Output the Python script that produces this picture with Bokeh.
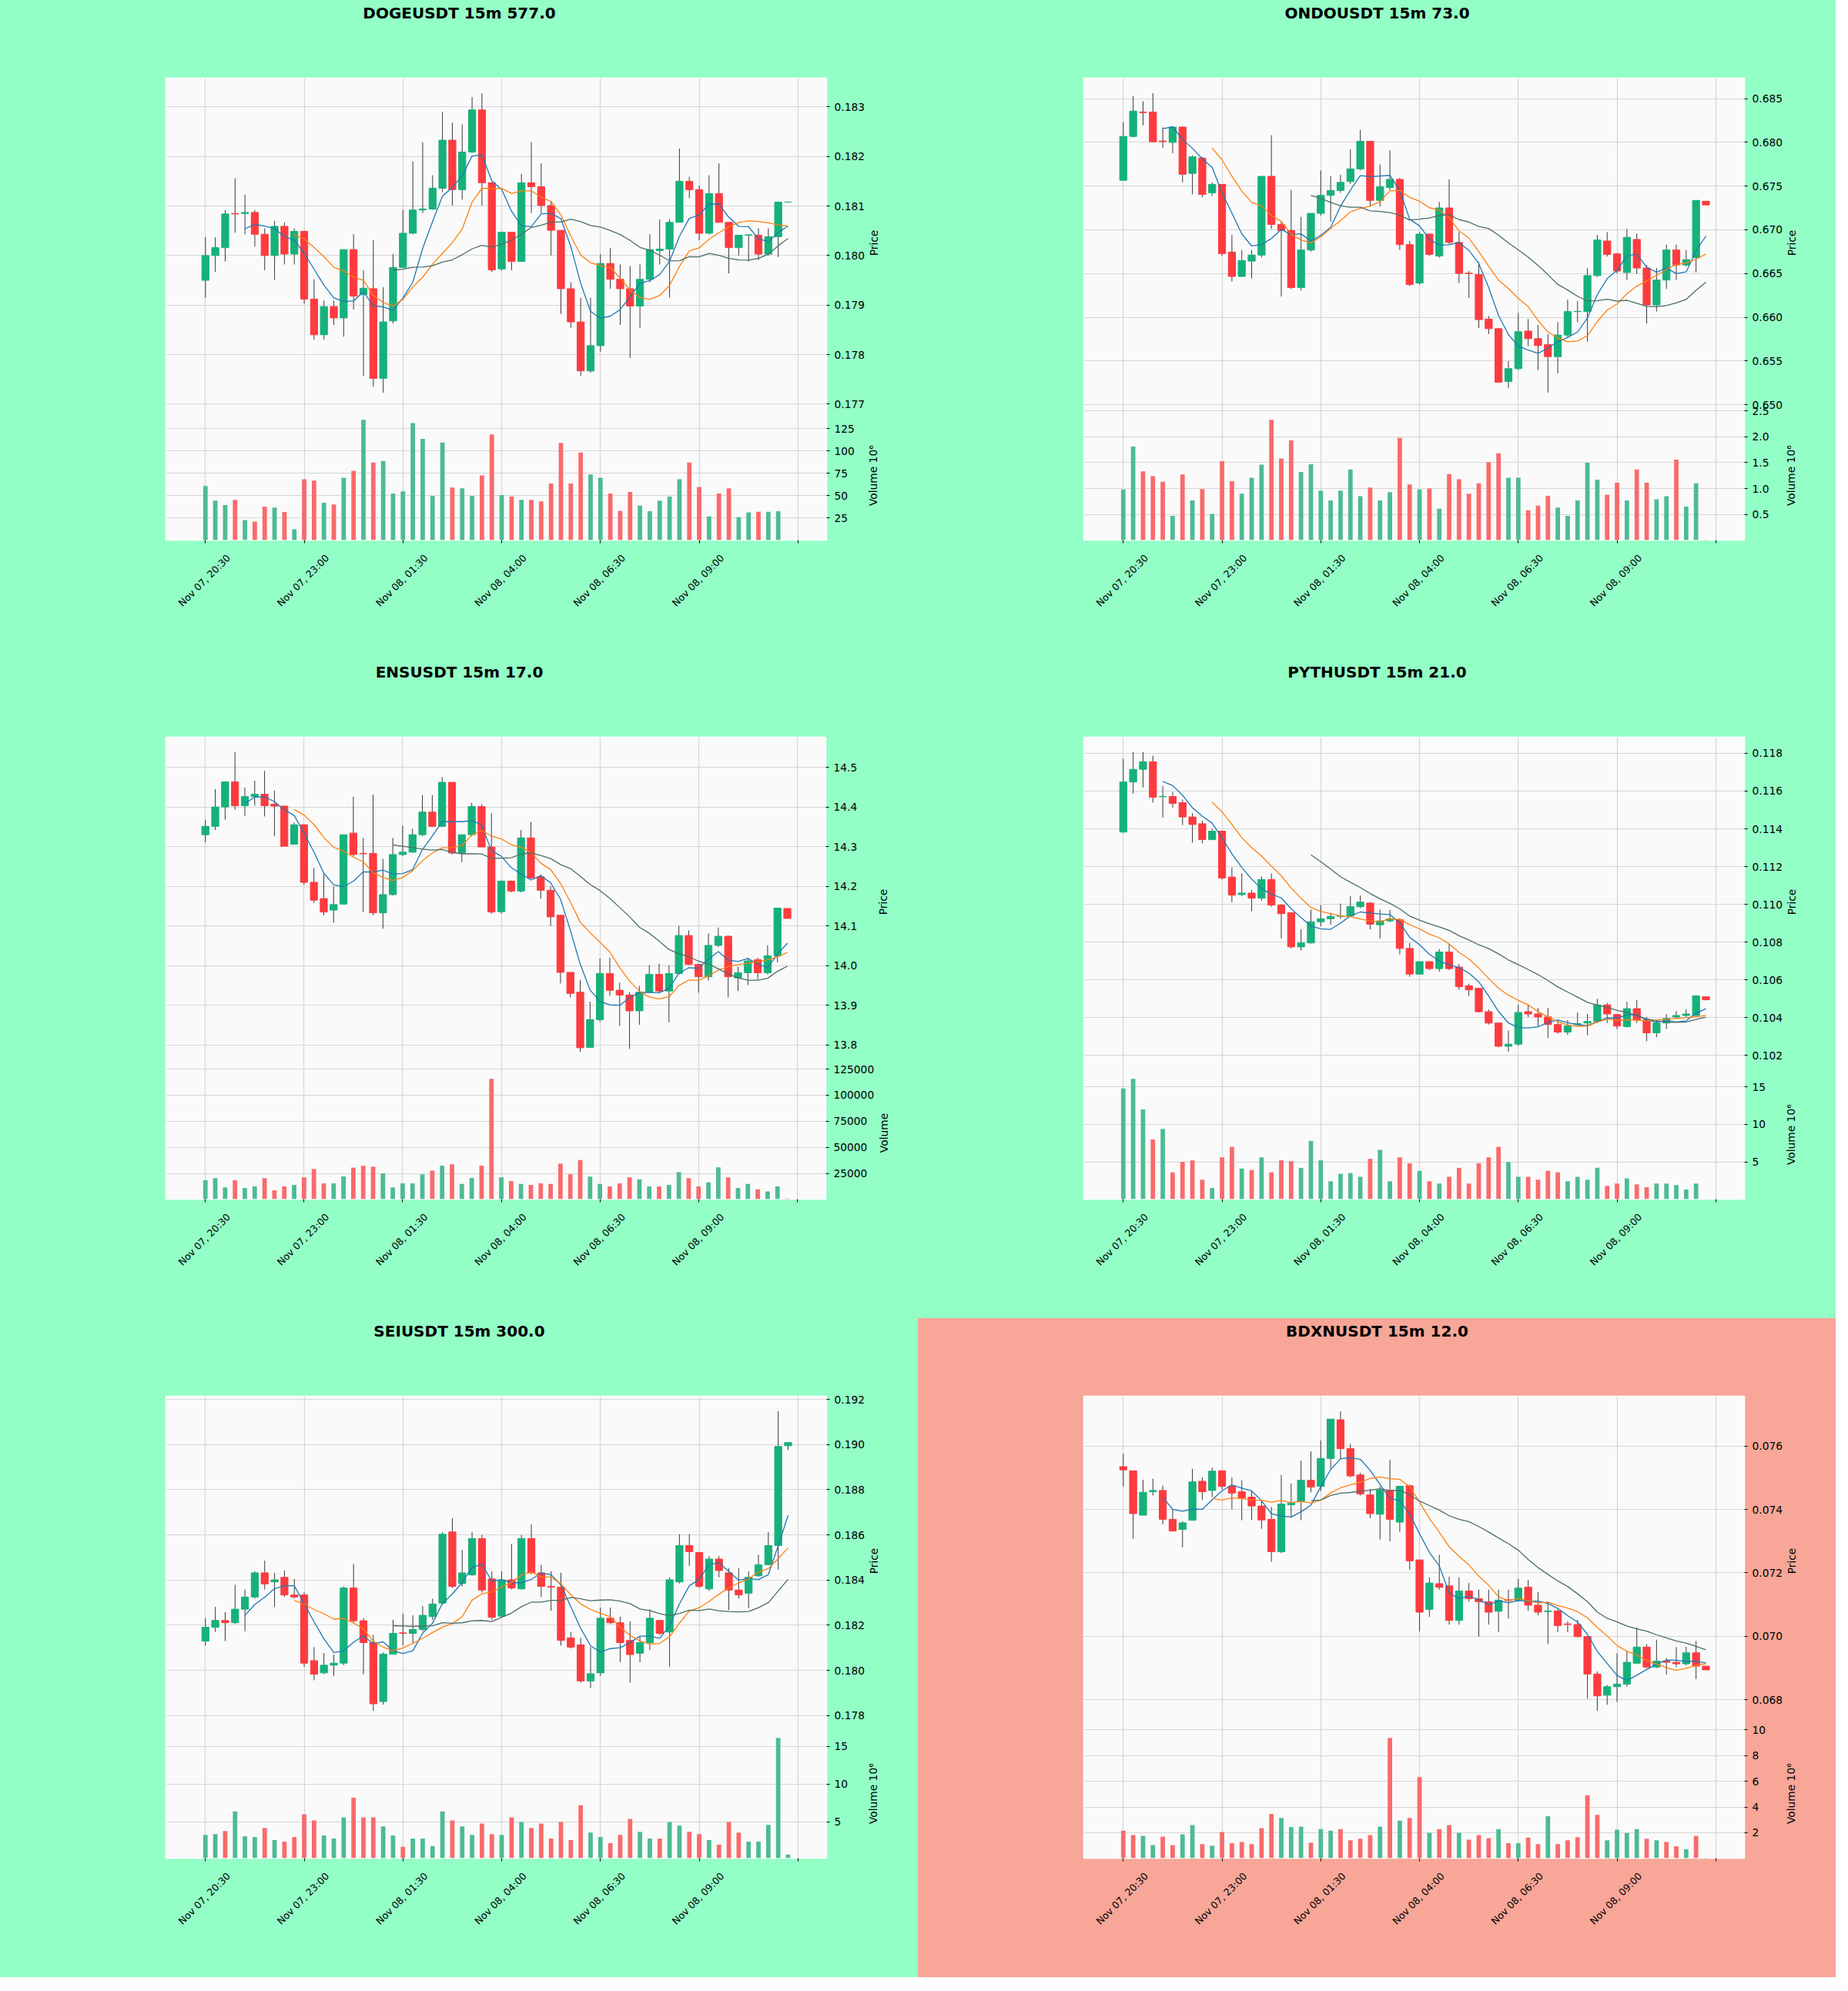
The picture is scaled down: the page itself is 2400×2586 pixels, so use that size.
import math
import numpy as np
import pandas as pd
from bokeh.plotting import figure
from bokeh.layouts import column, row
from bokeh.models import Range1d, FixedTicker, CustomJSTickFormatter, ColumnDataSource
from bokeh.core.properties import value
from bokeh.embed import file_html
from bokeh.resources import INLINE

# ---------------- data ----------------
X_TICK_POS = [0, 10, 20, 30, 40, 50]
X_TICK_LABELS = ["Nov 07, 20:30", "Nov 07, 23:00", "Nov 08, 01:30",
                 "Nov 08, 04:00", "Nov 08, 06:30", "Nov 08, 09:00"]
X_TICK_MARKS = [0, 10, 20, 30, 40, 50, 60]
MA_WINDOWS = [5, 10, 20]

DOGE_TITLE = "DOGEUSDT 15m 577.0"
DOGE_OPEN = [0.17950, 0.18000, 0.18016, 0.18085, 0.18085, 0.18087, 0.18043, 0.18000, 0.18059, 0.18003,
             0.18049, 0.17912, 0.17840, 0.17897, 0.17874, 0.18012, 0.17921, 0.17933, 0.17752, 0.17868,
             0.17976, 0.18045, 0.18092, 0.18094, 0.18136, 0.18233, 0.18133, 0.18209, 0.18294, 0.18147,
             0.17973, 0.18047, 0.17988, 0.18147, 0.18139, 0.18101, 0.18051, 0.17933, 0.17866, 0.17767,
             0.17818, 0.17984, 0.17952, 0.17933, 0.17898, 0.17952, 0.18010, 0.18013, 0.18067, 0.18150,
             0.18133, 0.18045, 0.18125, 0.18067, 0.18016, 0.18041, 0.18041, 0.18003, 0.18038, 0.18108]
DOGE_HIGH = [0.18037, 0.18037, 0.18092, 0.18156, 0.18123, 0.18092, 0.18055, 0.18070, 0.18067, 0.18055,
             0.18049, 0.17952, 0.17909, 0.17909, 0.18012, 0.18043, 0.17970, 0.18031, 0.17936, 0.18003,
             0.18092, 0.18190, 0.18229, 0.18162, 0.18290, 0.18268, 0.18265, 0.18320, 0.18328, 0.18147,
             0.18047, 0.18047, 0.18165, 0.18229, 0.18186, 0.18110, 0.18051, 0.17946, 0.17915, 0.17915,
             0.18003, 0.18015, 0.17982, 0.17979, 0.17982, 0.18043, 0.18073, 0.18073, 0.18216, 0.18159,
             0.18141, 0.18162, 0.18186, 0.18067, 0.18041, 0.18042, 0.18055, 0.18055, 0.18109, 0.18108]
DOGE_LOW = [0.17915, 0.17967, 0.17988, 0.18046, 0.18043, 0.18018, 0.17970, 0.17951, 0.17982, 0.17982,
            0.17903, 0.17830, 0.17830, 0.17860, 0.17836, 0.17891, 0.17757, 0.17735, 0.17723, 0.17863,
            0.17976, 0.18043, 0.18086, 0.18092, 0.18128, 0.18101, 0.18113, 0.18207, 0.18101, 0.17967,
            0.17970, 0.17970, 0.17988, 0.18086, 0.18086, 0.18000, 0.17882, 0.17854, 0.17757, 0.17763,
            0.17806, 0.17933, 0.17860, 0.17793, 0.17854, 0.17946, 0.17982, 0.17915, 0.18067, 0.18116,
            0.18031, 0.18043, 0.18067, 0.17964, 0.18000, 0.17988, 0.17991, 0.18000, 0.17997, 0.18108]
DOGE_CLOSE = [0.18000, 0.18016, 0.18084, 0.18084, 0.18087, 0.18043, 0.18000, 0.18059, 0.18003, 0.18049,
              0.17912, 0.17840, 0.17897, 0.17874, 0.18012, 0.17918, 0.17934, 0.17752, 0.17866, 0.17976,
              0.18045, 0.18092, 0.18094, 0.18136, 0.18233, 0.18133, 0.18209, 0.18294, 0.18147, 0.17971,
              0.18047, 0.17988, 0.18147, 0.18139, 0.18101, 0.18051, 0.17933, 0.17866, 0.17767, 0.17818,
              0.17984, 0.17952, 0.17933, 0.17898, 0.17952, 0.18012, 0.18013, 0.18067, 0.18150, 0.18133,
              0.18045, 0.18125, 0.18067, 0.18016, 0.18041, 0.18042, 0.18003, 0.18038, 0.18108, 0.18108]
DOGE_VOLUME = [60.7, 44.4, 39.3, 45.1, 22.6, 20.9, 37.6, 36.6, 31.5, 12.1,
               68.2, 66.8, 42.0, 40.0, 69.9, 77.7, 134.9, 86.9, 88.6, 52.2,
               54.6, 131.1, 113.4, 49.5, 109.4, 59.0, 58.0, 49.5, 72.6, 118.5,
               50.5, 48.8, 45.1, 45.1, 43.4, 63.4, 109.0, 63.4, 98.1, 73.6,
               69.9, 52.2, 32.8, 53.9, 38.6, 32.5, 44.4, 48.8, 68.2, 86.9,
               59.7, 26.7, 52.2, 58.0, 25.7, 31.1, 31.8, 31.8, 32.5, 0.4]
DOGE_PRICE_TICKS = [0.177, 0.178, 0.179, 0.180, 0.181, 0.182, 0.183]
DOGE_VOLUME_TICKS = [25, 50, 75, 100, 125]

ONDO_TITLE = "ONDOUSDT 15m 73.0"
ONDO_OPEN = [0.67566, 0.68067, 0.68345, 0.68345, 0.68015, 0.67999, 0.68174, 0.67645, 0.67820, 0.67422,
             0.67518, 0.66745, 0.66467, 0.66642, 0.66711, 0.67611, 0.67061, 0.66992, 0.66340, 0.66769,
             0.67188, 0.67394, 0.67449, 0.67552, 0.67696, 0.68012, 0.67336, 0.67484, 0.67576, 0.66831,
             0.66391, 0.66951, 0.66700, 0.67250, 0.66855, 0.66504, 0.66488, 0.65979, 0.65870, 0.65265,
             0.65413, 0.65842, 0.65756, 0.65687, 0.65550, 0.65797, 0.66065, 0.66065, 0.66477, 0.66872,
             0.66725, 0.66512, 0.66890, 0.66563, 0.66141, 0.66426, 0.66769, 0.66598, 0.66683, 0.67326]
ONDO_HIGH = [0.68229, 0.68527, 0.68469, 0.68562, 0.68170, 0.68184, 0.68184, 0.67851, 0.67834, 0.67542,
             0.67518, 0.66941, 0.66769, 0.66769, 0.67611, 0.68081, 0.67095, 0.67456, 0.67147, 0.67188,
             0.67679, 0.67611, 0.67628, 0.67920, 0.68143, 0.68012, 0.67748, 0.67909, 0.67593, 0.66872,
             0.66975, 0.66958, 0.67319, 0.67576, 0.66975, 0.66529, 0.66632, 0.66014, 0.65876, 0.65499,
             0.66048, 0.65979, 0.65911, 0.65808, 0.65945, 0.66202, 0.66185, 0.66563, 0.66941, 0.66975,
             0.66735, 0.67010, 0.66958, 0.66598, 0.66563, 0.66831, 0.66831, 0.66769, 0.67336, 0.67326]
ONDO_LOW = [0.67559, 0.68057, 0.68194, 0.68005, 0.67937, 0.67875, 0.67542, 0.67405, 0.67370, 0.67387,
            0.66701, 0.66409, 0.66460, 0.66443, 0.66683, 0.67010, 0.66237, 0.66323, 0.66306, 0.66752,
            0.67164, 0.67095, 0.67422, 0.67525, 0.67679, 0.67267, 0.67267, 0.67456, 0.66769, 0.66357,
            0.66374, 0.66701, 0.66683, 0.66838, 0.66391, 0.66220, 0.65876, 0.65808, 0.65258, 0.65190,
            0.65396, 0.65670, 0.65396, 0.65138, 0.65361, 0.65773, 0.65945, 0.65722, 0.66460, 0.66694,
            0.66501, 0.66426, 0.66495, 0.65928, 0.66065, 0.66323, 0.66426, 0.66580, 0.66512, 0.67284]
ONDO_CLOSE = [0.68067, 0.68356, 0.68340, 0.68005, 0.68008, 0.68174, 0.67635, 0.67834, 0.67405, 0.67518,
              0.66728, 0.66467, 0.66649, 0.66711, 0.67611, 0.67061, 0.66992, 0.66340, 0.66769, 0.67188,
              0.67394, 0.67449, 0.67542, 0.67696, 0.68012, 0.67336, 0.67490, 0.67576, 0.66831, 0.66374,
              0.66951, 0.66718, 0.67250, 0.66855, 0.66501, 0.66498, 0.65973, 0.65870, 0.65258, 0.65413,
              0.65835, 0.65756, 0.65677, 0.65550, 0.65797, 0.66065, 0.66068, 0.66477, 0.66883, 0.66718,
              0.66529, 0.66914, 0.66563, 0.66141, 0.66426, 0.66769, 0.66598, 0.66659, 0.67336, 0.67284]
ONDO_VOLUME = [0.98, 1.81, 1.33, 1.24, 1.13, 0.47, 1.27, 0.77, 0.99, 0.51,
               1.53, 1.14, 0.90, 1.21, 1.46, 2.33, 1.58, 1.93, 1.32, 1.47,
               0.96, 0.77, 0.96, 1.37, 0.85, 1.02, 0.77, 0.93, 1.98, 1.08,
               0.98, 1.00, 0.61, 1.28, 1.18, 0.90, 1.10, 1.51, 1.68, 1.21,
               1.21, 0.58, 0.67, 0.86, 0.63, 0.47, 0.77, 1.50, 1.17, 0.88,
               1.11, 0.77, 1.37, 1.11, 0.79, 0.85, 1.56, 0.65, 1.10, 0.01]
ONDO_PRICE_TICKS = [0.650, 0.655, 0.660, 0.665, 0.670, 0.675, 0.680, 0.685]
ONDO_VOLUME_TICKS = [0.5, 1.0, 1.5, 2.0, 2.5]

ENS_TITLE = "ENSUSDT 15m 17.0"
ENS_OPEN = [14.330, 14.351, 14.400, 14.463, 14.403, 14.426, 14.432, 14.407, 14.402, 14.306,
            14.355, 14.210, 14.169, 14.140, 14.155, 14.334, 14.283, 14.283, 14.133, 14.179,
            14.280, 14.286, 14.330, 14.387, 14.351, 14.462, 14.284, 14.330, 14.401, 14.299,
            14.136, 14.213, 14.188, 14.322, 14.224, 14.190, 14.127, 13.983, 13.933, 13.794,
            13.864, 13.980, 13.938, 13.926, 13.886, 13.933, 13.978, 13.936, 13.980, 14.076,
            14.003, 13.972, 14.051, 14.074, 13.969, 13.982, 14.015, 13.982, 14.025, 14.144]
ENS_HIGH = [14.368, 14.445, 14.463, 14.538, 14.449, 14.466, 14.491, 14.441, 14.403, 14.361,
            14.355, 14.246, 14.230, 14.200, 14.330, 14.426, 14.322, 14.431, 14.269, 14.322,
            14.353, 14.345, 14.430, 14.430, 14.475, 14.462, 14.330, 14.410, 14.407, 14.384,
            14.215, 14.215, 14.342, 14.362, 14.230, 14.200, 14.127, 13.983, 13.964, 13.909,
            14.018, 14.020, 13.957, 13.934, 13.949, 14.001, 14.005, 14.001, 14.100, 14.089,
            14.005, 14.081, 14.096, 14.076, 13.997, 14.020, 14.020, 14.051, 14.145, 14.144]
ENS_LOW = [14.311, 14.342, 14.368, 14.393, 14.377, 14.403, 14.376, 14.326, 14.301, 14.306,
           14.204, 14.158, 14.127, 14.108, 14.154, 14.276, 14.135, 14.127, 14.093, 14.177,
           14.276, 14.284, 14.326, 14.349, 14.349, 14.280, 14.261, 14.326, 14.299, 14.131,
           14.131, 14.185, 14.185, 14.219, 14.169, 14.100, 13.955, 13.920, 13.783, 13.792,
           13.859, 13.924, 13.848, 13.790, 13.851, 13.932, 13.932, 13.857, 13.978, 14.001,
           13.932, 13.962, 14.047, 13.920, 13.936, 13.951, 13.966, 13.978, 14.008, 14.119]
ENS_CLOSE = [14.351, 14.400, 14.463, 14.403, 14.426, 14.432, 14.403, 14.402, 14.301, 14.355,
             14.210, 14.165, 14.135, 14.154, 14.330, 14.280, 14.282, 14.133, 14.179, 14.280,
             14.286, 14.330, 14.387, 14.351, 14.462, 14.284, 14.330, 14.401, 14.299, 14.135,
             14.213, 14.188, 14.322, 14.221, 14.190, 14.123, 13.983, 13.930, 13.793, 13.864,
             13.980, 13.938, 13.926, 13.886, 13.933, 13.978, 13.936, 13.980, 14.076, 14.003,
             13.972, 14.051, 14.074, 13.972, 13.982, 14.012, 13.982, 14.025, 14.145, 14.119]
ENS_VOLUME = [18300, 20350, 11600, 18300, 11050, 12500, 20350, 8700, 12500, 14000,
              21200, 29100, 15400, 15400, 22100, 30500, 32300, 31400, 25000, 11600,
              15400, 15400, 24100, 27600, 32300, 33700, 14800, 20600, 32300, 115700,
              21200, 17700, 14800, 14000, 15400, 14800, 34300, 24100, 37800, 21800,
              14800, 12500, 15400, 21200, 19200, 12500, 12500, 14000, 26200, 20350,
              12500, 16300, 30800, 21200, 11050, 14800, 9600, 7600, 12500, 900]
ENS_PRICE_TICKS = [13.8, 13.9, 14.0, 14.1, 14.2, 14.3, 14.4, 14.5]
ENS_VOLUME_TICKS = [25000, 50000, 75000, 100000, 125000]

PYTH_TITLE = "PYTHUSDT 15m 21.0"
PYTH_OPEN = [0.11383, 0.11648, 0.11715, 0.11755, 0.11570, 0.11571, 0.11539, 0.11463, 0.11427, 0.11343,
             0.11388, 0.11145, 0.11052, 0.11060, 0.11033, 0.11132, 0.10996, 0.10956, 0.10775, 0.10796,
             0.10908, 0.10924, 0.10937, 0.10940, 0.10988, 0.11007, 0.10892, 0.10913, 0.10919, 0.10767,
             0.10631, 0.10697, 0.10660, 0.10748, 0.10668, 0.10569, 0.10556, 0.10432, 0.10372, 0.10249,
             0.10260, 0.10432, 0.10420, 0.10404, 0.10364, 0.10324, 0.10364, 0.10372, 0.10380, 0.10468,
             0.10417, 0.10353, 0.10448, 0.10388, 0.10320, 0.10372, 0.10404, 0.10412, 0.10412, 0.10511]
PYTH_HIGH = [0.11771, 0.11806, 0.11806, 0.11787, 0.11627, 0.11595, 0.11555, 0.11483, 0.11443, 0.11400,
             0.11388, 0.11196, 0.11164, 0.11076, 0.11148, 0.11164, 0.11001, 0.10956, 0.10868, 0.10972,
             0.10996, 0.10956, 0.11004, 0.11044, 0.11047, 0.11012, 0.10972, 0.10972, 0.10927, 0.10796,
             0.10697, 0.10697, 0.10764, 0.10791, 0.10684, 0.10580, 0.10556, 0.10444, 0.10372, 0.10332,
             0.10468, 0.10468, 0.10452, 0.10452, 0.10388, 0.10388, 0.10428, 0.10420, 0.10500, 0.10479,
             0.10420, 0.10484, 0.10495, 0.10404, 0.10388, 0.10420, 0.10436, 0.10444, 0.10516, 0.10511]
PYTH_LOW = [0.11380, 0.11587, 0.11619, 0.11539, 0.11459, 0.11512, 0.11420, 0.11327, 0.11324, 0.11340,
            0.11132, 0.11012, 0.11044, 0.10964, 0.11020, 0.10988, 0.10820, 0.10767, 0.10756, 0.10793,
            0.10884, 0.10892, 0.10924, 0.10937, 0.10980, 0.10868, 0.10820, 0.10905, 0.10735, 0.10617,
            0.10628, 0.10652, 0.10644, 0.10652, 0.10548, 0.10516, 0.10428, 0.10364, 0.10244, 0.10220,
            0.10252, 0.10404, 0.10356, 0.10292, 0.10316, 0.10308, 0.10356, 0.10308, 0.10372, 0.10372,
            0.10340, 0.10348, 0.10372, 0.10276, 0.10297, 0.10340, 0.10396, 0.10404, 0.10404, 0.10495]
PYTH_CLOSE = [0.11648, 0.11715, 0.11755, 0.11567, 0.11572, 0.11535, 0.11463, 0.11423, 0.11343, 0.11388,
              0.11140, 0.11049, 0.11060, 0.11033, 0.11132, 0.10996, 0.10951, 0.10775, 0.10796, 0.10908,
              0.10924, 0.10937, 0.10939, 0.10988, 0.11012, 0.10895, 0.10913, 0.10924, 0.10767, 0.10631,
              0.10697, 0.10660, 0.10748, 0.10660, 0.10564, 0.10548, 0.10432, 0.10372, 0.10249, 0.10260,
              0.10428, 0.10420, 0.10404, 0.10364, 0.10324, 0.10356, 0.10369, 0.10380, 0.10468, 0.10420,
              0.10356, 0.10448, 0.10388, 0.10320, 0.10372, 0.10396, 0.10412, 0.10420, 0.10516, 0.10495]
PYTH_VOLUME = [14.8, 16.1, 12.0, 8.0, 9.4, 3.6, 5.0, 5.2, 2.6, 1.5,
               5.6, 7.0, 4.1, 3.9, 5.6, 3.6, 5.2, 5.1, 4.2, 7.8,
               5.2, 2.4, 3.4, 3.5, 3.0, 5.4, 6.6, 2.4, 5.6, 4.8,
               3.8, 2.4, 2.1, 3.0, 4.2, 2.1, 4.8, 5.6, 7.0, 5.0,
               3.0, 3.0, 2.6, 3.8, 3.6, 2.4, 3.0, 2.6, 4.2, 1.8,
               2.1, 2.8, 2.0, 1.6, 2.1, 2.1, 1.9, 1.3, 2.1, 0.05]
PYTH_PRICE_TICKS = [0.102, 0.104, 0.106, 0.108, 0.110, 0.112, 0.114, 0.116, 0.118]
PYTH_VOLUME_TICKS = [5, 10, 15]

SEI_TITLE = "SEIUSDT 15m 300.0"
SEI_OPEN = [0.18130, 0.18191, 0.18221, 0.18211, 0.18271, 0.18325, 0.18432, 0.18392, 0.18412, 0.18334,
            0.18334, 0.18043, 0.17989, 0.18023, 0.18032, 0.18365, 0.18220, 0.18123, 0.17862, 0.18072,
            0.18166, 0.18164, 0.18181, 0.18238, 0.18298, 0.18613, 0.18385, 0.18423, 0.18584, 0.18405,
            0.18240, 0.18401, 0.18361, 0.18584, 0.18432, 0.18372, 0.18369, 0.18144, 0.18113, 0.17953,
            0.17989, 0.18231, 0.18211, 0.18133, 0.18076, 0.18123, 0.18221, 0.18170, 0.18392, 0.18553,
            0.18522, 0.18361, 0.18493, 0.18432, 0.18356, 0.18342, 0.18419, 0.18468, 0.18553, 0.18995]
SEI_HIGH = [0.18231, 0.18281, 0.18258, 0.18379, 0.18358, 0.18439, 0.18486, 0.18432, 0.18442, 0.18405,
            0.18345, 0.18103, 0.18077, 0.18070, 0.18372, 0.18472, 0.18231, 0.18157, 0.18079, 0.18224,
            0.18251, 0.18244, 0.18285, 0.18318, 0.18613, 0.18674, 0.18533, 0.18613, 0.18600, 0.18439,
            0.18439, 0.18560, 0.18600, 0.18647, 0.18468, 0.18439, 0.18432, 0.18170, 0.18144, 0.18103,
            0.18278, 0.18278, 0.18238, 0.18217, 0.18150, 0.18271, 0.18224, 0.18412, 0.18603, 0.18603,
            0.18526, 0.18506, 0.18506, 0.18452, 0.18452, 0.18439, 0.18513, 0.18613, 0.19148, 0.19009]
SEI_LOW = [0.18110, 0.18170, 0.18130, 0.18204, 0.18173, 0.18318, 0.18358, 0.18281, 0.18325, 0.18318,
           0.18016, 0.17956, 0.17983, 0.17976, 0.18023, 0.18211, 0.17983, 0.17821, 0.17848, 0.18070,
           0.18110, 0.18117, 0.18173, 0.18224, 0.18291, 0.18365, 0.18372, 0.18419, 0.18345, 0.18224,
           0.18235, 0.18358, 0.18358, 0.18426, 0.18325, 0.18264, 0.18110, 0.18097, 0.17945, 0.17922,
           0.17976, 0.18204, 0.18036, 0.17945, 0.18036, 0.18090, 0.18157, 0.18016, 0.18385, 0.18463,
           0.18365, 0.18352, 0.18412, 0.18267, 0.18318, 0.18275, 0.18415, 0.18466, 0.18446, 0.18976]
SEI_CLOSE = [0.18191, 0.18221, 0.18211, 0.18271, 0.18325, 0.18432, 0.18383, 0.18401, 0.18334, 0.18325,
             0.18032, 0.17983, 0.18023, 0.18032, 0.18365, 0.18220, 0.18123, 0.17852, 0.18072, 0.18164,
             0.18164, 0.18181, 0.18244, 0.18294, 0.18603, 0.18372, 0.18432, 0.18584, 0.18356, 0.18235,
             0.18401, 0.18365, 0.18584, 0.18432, 0.18372, 0.18369, 0.18133, 0.18103, 0.17953, 0.17985,
             0.18231, 0.18211, 0.18123, 0.18070, 0.18123, 0.18231, 0.18164, 0.18401, 0.18553, 0.18526,
             0.18372, 0.18493, 0.18442, 0.18356, 0.18334, 0.18412, 0.18468, 0.18553, 0.18992, 0.19009]
SEI_VOLUME = [3.3, 3.4, 3.8, 6.4, 3.1, 3.0, 4.2, 2.6, 2.4, 3.0,
              6.0, 5.2, 3.2, 2.8, 5.6, 8.2, 5.6, 5.6, 4.4, 3.2,
              1.7, 2.8, 2.8, 1.8, 6.4, 5.2, 4.4, 3.3, 4.8, 3.4,
              3.3, 5.6, 5.0, 4.2, 4.8, 2.8, 5.0, 2.6, 7.2, 3.6,
              3.0, 2.2, 3.3, 5.4, 3.7, 2.8, 2.8, 5.0, 4.5, 3.7,
              3.4, 2.6, 2.0, 5.0, 3.6, 2.4, 2.4, 4.6, 16.1, 0.7]
SEI_PRICE_TICKS = [0.178, 0.180, 0.182, 0.184, 0.186, 0.188, 0.190, 0.192]
SEI_VOLUME_TICKS = [5, 10, 15]

BDXN_TITLE = "BDXNUSDT 15m 12.0"
BDXN_OPEN = [0.07535, 0.07522, 0.07382, 0.07456, 0.07460, 0.07369, 0.07337, 0.07366, 0.07489, 0.07460,
             0.07522, 0.07473, 0.07456, 0.07439, 0.07411, 0.07369, 0.07267, 0.07415, 0.07425, 0.07492,
             0.07473, 0.07561, 0.07683, 0.07592, 0.07509, 0.07446, 0.07385, 0.07461, 0.07360, 0.07475,
             0.07241, 0.07085, 0.07166, 0.07159, 0.07050, 0.07143, 0.07119, 0.07109, 0.07079, 0.07115,
             0.07114, 0.07155, 0.07098, 0.07078, 0.07080, 0.07039, 0.07037, 0.06999, 0.06881, 0.06814,
             0.06841, 0.06849, 0.06915, 0.06966, 0.06903, 0.06922, 0.06918, 0.06913, 0.06948, 0.06906]
BDXN_HIGH = [0.07576, 0.07522, 0.07494, 0.07497, 0.07475, 0.07401, 0.07363, 0.07528, 0.07501, 0.07532,
             0.07522, 0.07501, 0.07492, 0.07458, 0.07430, 0.07408, 0.07509, 0.07482, 0.07554, 0.07583,
             0.07618, 0.07685, 0.07710, 0.07607, 0.07516, 0.07465, 0.07473, 0.07557, 0.07475, 0.07478,
             0.07241, 0.07186, 0.07257, 0.07188, 0.07186, 0.07168, 0.07147, 0.07147, 0.07147, 0.07147,
             0.07181, 0.07178, 0.07140, 0.07109, 0.07085, 0.07047, 0.07052, 0.06999, 0.06889, 0.06846,
             0.06946, 0.06955, 0.07028, 0.06975, 0.06989, 0.06932, 0.06966, 0.06967, 0.06985, 0.06906]
BDXN_LOW = [0.07473, 0.07308, 0.07382, 0.07444, 0.07353, 0.07332, 0.07281, 0.07366, 0.07430, 0.07439,
            0.07463, 0.07401, 0.07366, 0.07367, 0.07339, 0.07235, 0.07262, 0.07377, 0.07366, 0.07454,
            0.07458, 0.07530, 0.07559, 0.07501, 0.07444, 0.07372, 0.07305, 0.07300, 0.07329, 0.07210,
            0.07015, 0.07061, 0.07147, 0.07037, 0.07037, 0.07109, 0.06999, 0.07037, 0.07013, 0.07056,
            0.07109, 0.07080, 0.07066, 0.06975, 0.07013, 0.07013, 0.06996, 0.06803, 0.06765, 0.06784,
            0.06793, 0.06841, 0.06913, 0.06900, 0.06900, 0.06879, 0.06903, 0.06908, 0.06865, 0.06894]
BDXN_CLOSE = [0.07525, 0.07387, 0.07454, 0.07460, 0.07369, 0.07332, 0.07358, 0.07487, 0.07456, 0.07521,
              0.07473, 0.07452, 0.07436, 0.07411, 0.07367, 0.07267, 0.07417, 0.07420, 0.07492, 0.07471,
              0.07561, 0.07685, 0.07592, 0.07506, 0.07449, 0.07387, 0.07461, 0.07369, 0.07473, 0.07238,
              0.07076, 0.07168, 0.07155, 0.07050, 0.07143, 0.07119, 0.07109, 0.07076, 0.07114, 0.07113,
              0.07152, 0.07098, 0.07076, 0.07080, 0.07034, 0.07037, 0.06999, 0.06881, 0.06812, 0.06841,
              0.06849, 0.06918, 0.06966, 0.06903, 0.06922, 0.06918, 0.06913, 0.06948, 0.06906, 0.06894]
BDXN_VOLUME = [2.16, 1.81, 1.76, 1.04, 1.69, 1.04, 1.88, 2.59, 1.11, 0.99,
               2.05, 1.18, 1.27, 1.11, 2.35, 3.46, 3.15, 2.45, 2.47, 1.22,
               2.28, 2.16, 2.28, 1.41, 1.53, 1.81, 2.47, 9.39, 2.94, 3.15,
               6.33, 2.00, 2.28, 2.59, 2.00, 1.46, 1.81, 1.58, 2.28, 1.18,
               1.18, 1.62, 1.11, 3.29, 1.11, 1.41, 1.65, 4.92, 3.39, 1.41,
               2.24, 1.98, 2.28, 1.53, 1.41, 1.27, 0.94, 0.71, 1.76, 0.05]
BDXN_PRICE_TICKS = [0.068, 0.070, 0.072, 0.074, 0.076]
BDXN_VOLUME_TICKS = [2, 4, 6, 8, 10]

# ---------------- style ----------------
MINT = "#93fec6"
SALMON = "#f7a698"
PANEL_BG = "#fafafa"
GRID = "#d6d6d6"
UP = "#16b17a"
DOWN = "#fd3b3f"
VUP = "#4dbb93"
VDOWN = "#fa6a6b"
WICK = "#3a3a3a"
MA_COLORS = ["#1f77b4", "#ff7f0e", "#4a6e68"]
FONT = "DejaVu Sans"
TICK_PX = 13.8
TICK_FS = "13.8px"
XLABEL_FS = "12.6px"
AXLABEL_FS = "13.8px"

CELL_W = 1192
CELL_H = 856
TITLE_H = 83
MAIN_TOP = 18
PRICE_FRAME = 428
VOL_FRAME = 172
MAIN_BOTTOM = 12
MAIN_H = MAIN_TOP + PRICE_FRAME + VOL_FRAME + MAIN_BOTTOM
STRIP_H = CELL_H - TITLE_H - MAIN_H
LEFT = 215
FRAME_W = 858
X_RANGE = (-4.0, 62.9)
CANDLE_W = 0.72
VOL_W = 0.45

SPECS = [
    dict(title=DOGE_TITLE, o=DOGE_OPEN, h=DOGE_HIGH, l=DOGE_LOW, c=DOGE_CLOSE, v=DOGE_VOLUME,
         pt=DOGE_PRICE_TICKS, pf="%.3f", vt=DOGE_VOLUME_TICKS, vf="%d", vl="Volume  10\u2076", bg=MINT),
    dict(title=ONDO_TITLE, o=ONDO_OPEN, h=ONDO_HIGH, l=ONDO_LOW, c=ONDO_CLOSE, v=ONDO_VOLUME,
         pt=ONDO_PRICE_TICKS, pf="%.3f", vt=ONDO_VOLUME_TICKS, vf="%.1f", vl="Volume  10\u2076", bg=MINT),
    dict(title=ENS_TITLE, o=ENS_OPEN, h=ENS_HIGH, l=ENS_LOW, c=ENS_CLOSE, v=ENS_VOLUME,
         pt=ENS_PRICE_TICKS, pf="%.1f", vt=ENS_VOLUME_TICKS, vf="%d", vl="Volume", bg=MINT),
    dict(title=PYTH_TITLE, o=PYTH_OPEN, h=PYTH_HIGH, l=PYTH_LOW, c=PYTH_CLOSE, v=PYTH_VOLUME,
         pt=PYTH_PRICE_TICKS, pf="%.3f", vt=PYTH_VOLUME_TICKS, vf="%d", vl="Volume  10\u2076", bg=MINT),
    dict(title=SEI_TITLE, o=SEI_OPEN, h=SEI_HIGH, l=SEI_LOW, c=SEI_CLOSE, v=SEI_VOLUME,
         pt=SEI_PRICE_TICKS, pf="%.3f", vt=SEI_VOLUME_TICKS, vf="%d", vl="Volume  10\u2076", bg=MINT),
    dict(title=BDXN_TITLE, o=BDXN_OPEN, h=BDXN_HIGH, l=BDXN_LOW, c=BDXN_CLOSE, v=BDXN_VOLUME,
         pt=BDXN_PRICE_TICKS, pf="%.3f", vt=BDXN_VOLUME_TICKS, vf="%d", vl="Volume  10\u2076", bg=SALMON),
]


def text_width(s):
    w = 0.0
    for ch in s:
        if ch.isdigit():
            w += 0.636
        elif ch in ".,":
            w += 0.318
        else:
            w += 0.6
    return w * TICK_PX


def fig(width, height, bg, **kw):
    p = figure(width=width, height=height, toolbar_location=None, output_backend="svg", **kw)
    p.border_fill_color = bg
    return p


def build_cell(s):
    o = np.array(s["o"], dtype=float)
    h = np.array(s["h"], dtype=float)
    l = np.array(s["l"], dtype=float)
    c = np.array(s["c"], dtype=float)
    v = np.array(s["v"], dtype=float)
    x = np.arange(len(o))
    up = c >= o
    src = ColumnDataSource(dict(x=x, l=l, h=h, v=v,
                                top=np.maximum(o, c), bot=np.minimum(o, c),
                                ccol=np.where(up, UP, DOWN), vcol=np.where(up, VUP, VDOWN)))
    bg = s["bg"]
    xr = Range1d(*X_RANGE)

    p_labels = [s["pf"] % t for t in s["pt"]]
    v_labels = [s["vf"] % t for t in s["vt"]]
    pw = max(text_width(t) for t in p_labels)
    vw = max(text_width(t) for t in v_labels)
    right_b = int(math.ceil(10 + max(pw, vw) + 2))
    w_main = LEFT + FRAME_W + right_b
    w_lab = CELL_W - w_main

    # ---- title strip ----
    tf = fig(w_main, TITLE_H, bg, x_range=(LEFT, LEFT + FRAME_W), y_range=(0, TITLE_H),
             x_axis_type=None, y_axis_type=None,
             min_border_left=LEFT, min_border_right=right_b, min_border_top=0, min_border_bottom=0)
    tf.background_fill_color = None
    tf.outline_line_color = None
    tf.text(x=[CELL_W / 2], y=[TITLE_H - 16], text=[s["title"]], text_align="center",
            text_baseline="middle", text_font=value(FONT), text_font_size="20px",
            text_font_style="bold", text_color="black")

    # ---- main figure: price panel on top, volume panel below ----
    rng = h.max() - l.min()
    p_lo, p_hi = l.min() - 0.05 * rng, h.max() + 0.05 * rng
    y_start = p_lo - (p_hi - p_lo) * VOL_FRAME / PRICE_FRAME
    v_lo, v_hi = 0.3 * v.min(), 1.1 * v.max()
    v_end = v_hi + (v_hi - v_lo) * PRICE_FRAME / VOL_FRAME

    mf = fig(w_main, MAIN_H, bg, x_range=xr, y_range=Range1d(y_start, p_hi),
             y_axis_location="right",
             min_border_left=LEFT, min_border_right=right_b,
             min_border_top=MAIN_TOP, min_border_bottom=MAIN_BOTTOM)
    mf.extra_y_ranges = {"vol": Range1d(v_lo, v_end)}
    mf.background_fill_color = PANEL_BG
    mf.outline_line_color = "white"
    mf.outline_line_width = 1.5

    vol_pos = [y_start + (t - v_lo) / (v_end - v_lo) * (p_hi - y_start) for t in s["vt"]]
    positions = list(s["pt"]) + vol_pos
    labels = p_labels + v_labels
    ya = mf.yaxis[0]
    ya.ticker = FixedTicker(ticks=positions)
    ya.formatter = CustomJSTickFormatter(args=dict(pos=positions, labs=labels), code="""
        let best = 0, bd = Infinity;
        for (let i = 0; i < pos.length; i++) {
            const d = Math.abs(pos[i] - tick);
            if (d < bd) { bd = d; best = i; }
        }
        return labs[best];
    """)
    ya.major_tick_out = 4
    ya.major_tick_in = 0
    ya.major_tick_line_color = "black"
    ya.minor_tick_line_color = None
    ya.axis_line_color = None
    ya.major_label_text_font = FONT
    ya.major_label_text_font_size = TICK_FS
    ya.major_label_text_color = "black"
    ya.major_label_standoff = 6

    xa = mf.xaxis[0]
    xa.ticker = FixedTicker(ticks=X_TICK_MARKS)
    xa.major_label_overrides = {t: "" for t in X_TICK_MARKS}
    xa.major_label_text_font_size = "1px"
    xa.major_label_standoff = 0
    xa.major_tick_out = 4
    xa.major_tick_in = 0
    xa.major_tick_line_color = "black"
    xa.minor_tick_line_color = None
    xa.axis_line_color = None

    mf.xgrid.grid_line_color = GRID
    mf.xgrid.grid_line_width = 1.2
    mf.ygrid.grid_line_color = GRID
    mf.ygrid.grid_line_width = 1.2

    mf.vbar(x="x", top="v", bottom=0, width=VOL_W, source=src, y_range_name="vol",
            fill_color="vcol", line_color=None)
    mf.segment(x0="x", y0="l", x1="x", y1="h", source=src, line_color=WICK, line_width=1)
    mf.vbar(x="x", top="top", bottom="bot", width=CANDLE_W, source=src,
            fill_color="ccol", line_color="ccol", line_width=1)
    cs = pd.Series(c)
    for w, col in zip(MA_WINDOWS, MA_COLORS):
        mf.line(x, cs.rolling(w).mean().values, line_color=col, line_width=1.3)

    # ---- axis titles, reading bottom-to-top, right of the tick labels ----
    lf = fig(w_lab, MAIN_H, bg, x_range=(0, w_lab), y_range=(0, PRICE_FRAME + VOL_FRAME),
             x_axis_type=None, y_axis_type=None,
             min_border_left=0, min_border_right=0,
             min_border_top=MAIN_TOP, min_border_bottom=MAIN_BOTTOM)
    lf.background_fill_color = None
    lf.outline_line_color = None
    cp = max(22 + pw, right_b + 8) - right_b
    cv = max(22 + vw, right_b + 8) - right_b
    lf.text(x=[cp, cv], y=[VOL_FRAME + PRICE_FRAME / 2, VOL_FRAME / 2], text=["Price", s["vl"]],
            angle=math.pi / 2, text_align="center", text_baseline="middle",
            text_font=value(FONT), text_font_size=AXLABEL_FS, text_color="black")

    # ---- date labels strip ----
    sf = fig(w_main, STRIP_H, bg, x_range=xr, y_range=(0, 1),
             x_axis_type=None, y_axis_type=None,
             min_border_left=LEFT, min_border_right=right_b,
             min_border_top=0, min_border_bottom=0)
    sf.background_fill_color = None
    sf.outline_line_color = None
    sf.text(x=X_TICK_POS, y=[1] * len(X_TICK_POS), text=X_TICK_LABELS, angle=math.pi / 4,
            text_align="right", text_baseline="middle", x_offset=30, y_offset=9,
            text_font=value(FONT), text_font_size=XLABEL_FS, text_color="black")

    return column(tf, row(mf, lf, styles={"background-color": bg}), sf,
                  styles={"background-color": bg}, width=CELL_W)


cells = [build_cell(s) for s in SPECS]
layout = column(row(cells[0], cells[1], styles={"background-color": MINT}),
                row(cells[2], cells[3], styles={"background-color": MINT}),
                row(cells[4], cells[5], styles={"background-color": MINT}),
                styles={"background-color": MINT})

with open("out.html", "w") as f:
    f.write(file_html(layout, INLINE))
